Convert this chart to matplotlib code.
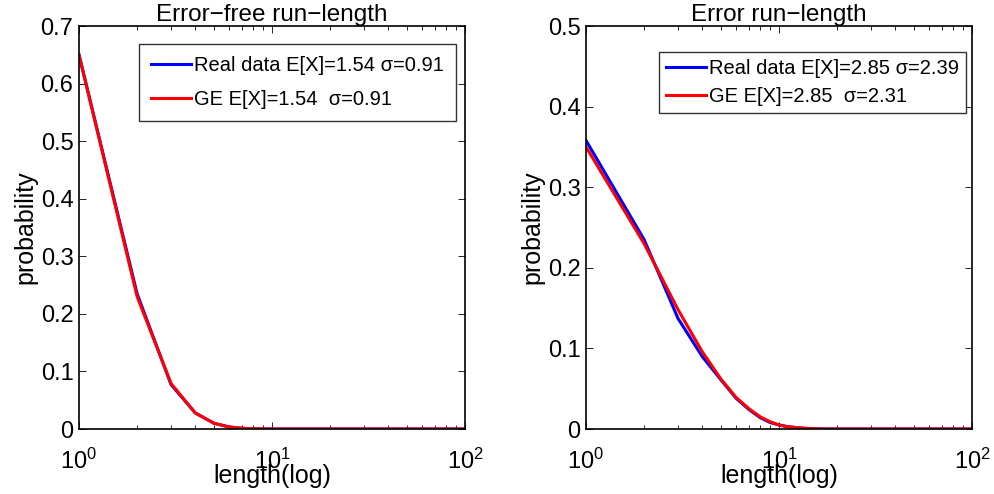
import numpy as np
import matplotlib.pyplot as plt
from matplotlib.ticker import LogLocator, NullFormatter

plt.rcParams['font.family'] = ['Liberation Sans', 'DejaVu Sans']
plt.rcParams['mathtext.fontset'] = 'custom'
plt.rcParams['mathtext.rm'] = 'Liberation Sans'
plt.rcParams['mathtext.it'] = 'Liberation Sans'

# run lengths 1..100
length = np.arange(1, 101)

# error-free run-length distribution
ef_real_head = [0.650, 0.235, 0.077, 0.028, 0.0100, 0.0035, 0.0012, 0.0004, 0.0001]
ef_ge_head = [0.650, 0.230, 0.079, 0.028, 0.0100, 0.0036, 0.0013, 0.0005, 0.0002]

# error run-length distribution
er_real_head = [0.358, 0.235, 0.137, 0.090, 0.061, 0.038, 0.024, 0.014, 0.008,
                0.005, 0.003, 0.002, 0.0012, 0.0007, 0.0004, 0.0002, 0.0001]
er_ge_head = [0.350, 0.230, 0.148, 0.096, 0.062, 0.039, 0.025, 0.015, 0.009,
              0.005, 0.003, 0.002, 0.0012, 0.0007, 0.0004, 0.0002, 0.0001]


def pad(head):
    out = np.zeros(len(length))
    out[:len(head)] = head
    return out


panels = [
    dict(title='Error\u2212free run\u2212length', real=pad(ef_real_head), ge=pad(ef_ge_head),
         ylim=0.7, yticks=np.arange(0, 0.71, 0.1),
         labels=['Real data E[X]=1.54 \u03c3=0.91', 'GE E[X]=1.54  \u03c3=0.91'],
         left=79, anchor=(0.977, 0.955), spacing=0.75, bpad=0.6),
    dict(title='Error run\u2212length', real=pad(er_real_head), ge=pad(er_ge_head),
         ylim=0.5, yticks=np.arange(0, 0.51, 0.1),
         labels=['Real data E[X]=2.85 \u03c3=2.39', 'GE E[X]=2.85  \u03c3=2.31'],
         left=586, anchor=(0.984, 0.935), spacing=0.45, bpad=0.33),
]

W, H = 995, 494
fig = plt.figure(figsize=(W / 100, H / 100), dpi=100)

for p in panels:
    ax = fig.add_axes([p['left'] / W, (H - 429) / H, 386 / W, 403 / H])
    ax.plot(length, p['real'], color='#0000ff', lw=2.2, label=p['labels'][0])
    ax.plot(length, p['ge'], color='#ff0000', lw=2.2, label=p['labels'][1])
    ax.set_xscale('log')
    ax.set_xlim(1, 100)
    ax.set_ylim(0, p['ylim'])
    ax.set_yticks(p['yticks'])
    ax.set_yticklabels(['0'] + ['%.1f' % v for v in p['yticks'][1:]])
    ax.xaxis.set_major_locator(LogLocator(base=10, numticks=5))
    ax.xaxis.set_minor_locator(LogLocator(base=10, subs=np.arange(2, 10), numticks=20))
    ax.xaxis.set_minor_formatter(NullFormatter())
    ax.tick_params(which='both', direction='in', top=True, right=True, width=0.6)
    ax.tick_params(which='major', length=5, labelsize=17)
    ax.tick_params(which='minor', length=3)
    ax.tick_params(axis='x', pad=14)
    ax.tick_params(axis='y', pad=4)
    for s in ax.spines.values():
        s.set_linewidth(1.2)
    ax.set_title(p['title'], fontsize=17.5, pad=3)
    ax.set_xlabel('length(log)', fontsize=18, labelpad=-7)
    ax.set_ylabel('probability', fontsize=18, labelpad=2)
    leg = ax.legend(loc='upper right', bbox_to_anchor=p['anchor'], fontsize=14.5,
                    frameon=True, fancybox=False, edgecolor='black',
                    handlelength=2.0, handletextpad=0.15, borderpad=p['bpad'],
                    labelspacing=p['spacing'], borderaxespad=0)
    leg.get_frame().set_linewidth(1.0)

fig.savefig('out.png', dpi=100)
